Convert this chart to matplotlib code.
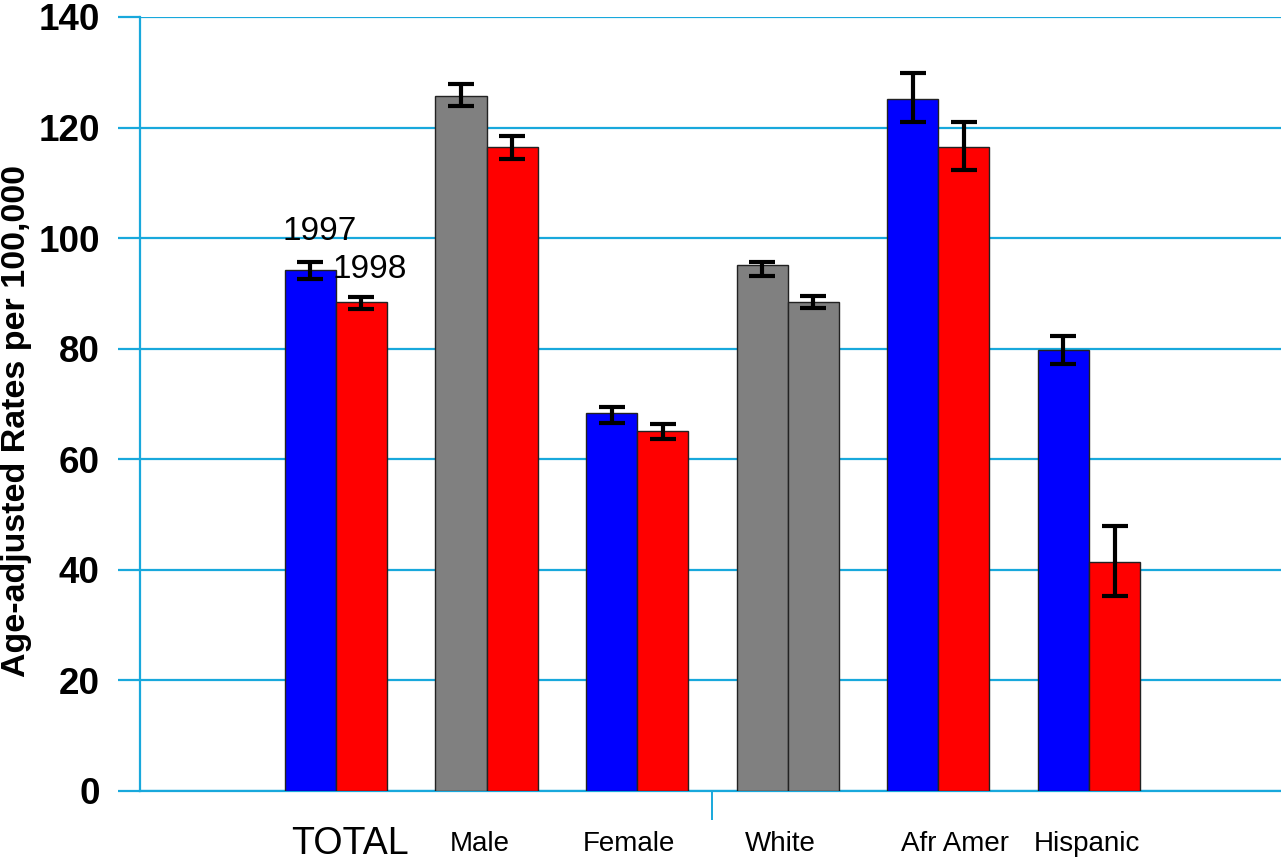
import numpy as np
import matplotlib.pyplot as plt

# Datos
grupos = ['TOTAL', 'Male', 'Female', 'White', 'Afr Amer', 'Hispanic']
tasa_1997 = [94.2, 125.7, 68.3, 95.1, 125.2, 79.8]
tasa_1998 = [88.4, 116.5, 65.1, 88.5, 116.5, 41.5]
err_1997_sup = [95.6, 127.8, 69.5, 95.6, 129.8, 82.3]
err_1997_inf = [92.7, 123.9, 66.6, 93.1, 121.0, 77.3]
err_1998_sup = [89.4, 118.5, 66.3, 89.5, 121.0, 47.9]
err_1998_inf = [87.2, 114.4, 63.6, 87.4, 112.3, 35.3]
colores_1997 = ['#0000ff', '#808080', '#0000ff', '#808080', '#0000ff', '#0000ff']
colores_1998 = ['#ff0000', '#ff0000', '#ff0000', '#808080', '#ff0000', '#ff0000']
yticks = [0, 20, 40, 60, 80, 100, 120, 140]

azul_grid = '#18a8dc'
plt.rcParams['font.family'] = ['Liberation Sans', 'DejaVu Sans']

fig = plt.figure(figsize=(12.81, 8.61), dpi=100)
ax = fig.add_axes([140 / 1281, 1 - 791 / 861, 1 - 140 / 1281, (791 - 17) / 861])

x = np.arange(len(grupos))
ancho = 0.339

ax.bar(x - ancho / 2, tasa_1997, ancho, color=colores_1997, edgecolor='#222222', linewidth=1, zorder=3)
ax.bar(x + ancho / 2, tasa_1998, ancho, color=colores_1998, edgecolor='#222222', linewidth=1, zorder=3)

def barras_error(xs, sup, inf):
    sup = np.array(sup)
    inf = np.array(inf)
    centro = (sup + inf) / 2
    ax.errorbar(xs, centro, yerr=(sup - inf) / 2, fmt='none', ecolor='black',
                elinewidth=3, capsize=9.5, capthick=3, zorder=4)

barras_error(x - ancho / 2, err_1997_sup, err_1997_inf)
barras_error(x + ancho / 2, err_1998_sup, err_1998_inf)

ax.set_xlim(-1.301, 6.275)
ax.set_ylim(0, 140)
ax.set_yticks(yticks)
ax.set_yticklabels([str(v) for v in yticks], fontsize=26.5, fontweight='bold')
ax.yaxis.grid(True, color=azul_grid, linewidth=1.6, zorder=0)
ax.tick_params(axis='y', length=16, width=1.6, color=azul_grid, pad=13)
ax.set_xticks([2.5])
ax.set_xticklabels([''])
ax.tick_params(axis='x', length=21, width=1.4, color=azul_grid)

for s in ['top', 'right']:
    ax.spines[s].set_visible(False)
ax.spines['left'].set_color(azul_grid)
ax.spines['left'].set_linewidth(1.6)
ax.spines['bottom'].set_color(azul_grid)
ax.spines['bottom'].set_linewidth(1.6)

# Etiquetas de categorias
desplaz = [0.09, -0.044, -0.054, -0.052, 0.11, -0.013]
tamanos = [27, 20, 20, 20, 20, 20]
for i, g in enumerate(grupos):
    ax.text(i + desplaz[i], -9.6, g, ha='center', va='center', fontsize=tamanos[i],
            transform=ax.transData, clip_on=False)

ax.text(-0.352, 99.66, '1997', fontsize=24, ha='left', va='baseline')
ax.text(-0.02, 92.8, '1998', fontsize=24, ha='left', va='baseline')

fig.text(17 / 1281, 1 - 421 / 861, 'Age-adjusted Rates per 100,000', rotation=90,
         ha='center', va='center', fontsize=24.5, fontweight='bold')

fig.savefig('out.png', dpi=100)
